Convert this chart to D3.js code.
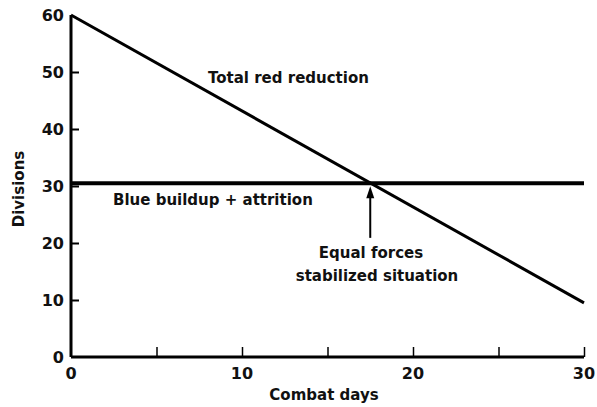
<!DOCTYPE html>
<html>
<head>
<meta charset="utf-8">
<script src="https://cdn.jsdelivr.net/npm/d3@7"></script>
<style>
  body { margin: 0; background: #fff; }
  svg text { font-family: "DejaVu Sans", sans-serif; font-weight: bold; fill: #111; }
</style>
</head>
<body>
<div class="graphic"></div>
<script>
// chart values
var days = [0, 30]
var redReduction = [60, 9.5]
var blueBuildup = [30.5, 30.5]
var xTicks = [5, 10, 15, 20, 25, 30]
var xTickLabels = [0, 10, 20, 30]
var yTicks = [10, 20, 30, 40, 50]
var yTickLabels = [0, 10, 20, 30, 40, 50, 60]
var equalPoint = [17.5, 30.5]
var arrowStart = 20.9

var width = 597
var height = 407

var svg = d3.select('.graphic').append('svg')
  .attr('width', width)
  .attr('height', height)

var x = d3.scaleLinear().domain([0, 30]).range([71, 584])
var y = d3.scaleLinear().domain([0, 60]).range([357, 15])

// axes
var xAxis = d3.axisTop(x).tickValues(xTicks).tickSize(10).tickFormat('')
var yAxis = d3.axisRight(y).tickValues(yTicks).tickSize(8).tickFormat('')

var xg = svg.append('g')
  .attr('transform', 'translate(0,' + y(0) + ')')
  .call(xAxis)
xg.select('.domain').attr('stroke-width', 3).attr('d', 'M' + x(0) + ',0H' + x(30))
xg.selectAll('.tick line').attr('stroke-width', 1.5)

var yg = svg.append('g')
  .attr('transform', 'translate(' + x(0) + ',0)')
  .call(yAxis)
yg.select('.domain').attr('stroke-width', 3).attr('d', 'M0,' + y(60) + 'V' + y(0))
yg.selectAll('.tick line').attr('stroke-width', 2)

// tick labels
svg.selectAll('.ylab')
  .data(yTickLabels)
  .enter().append('text')
  .attr('class', 'ylab')
  .attr('x', x(0) - 7)
  .attr('y', function(d) { return y(d) + 6 })
  .attr('text-anchor', 'end')
  .style('font-size', '16px')
  .text(function(d) { return d })

svg.selectAll('.xlab')
  .data(xTickLabels)
  .enter().append('text')
  .attr('class', 'xlab')
  .attr('x', function(d) { return x(d) })
  .attr('y', y(0) + 22)
  .attr('text-anchor', 'middle')
  .style('font-size', '16px')
  .text(function(d) { return d })

// axis titles
svg.append('text')
  .attr('x', 324)
  .attr('y', 400)
  .attr('text-anchor', 'middle')
  .style('font-size', '15px')
  .text('Combat days')

svg.append('text')
  .attr('transform', 'translate(24,189) rotate(-90)')
  .attr('text-anchor', 'middle')
  .style('font-size', '15px')
  .text('Divisions')

// lines
var line = d3.line()
  .x(function(d) { return x(d[0]) })
  .y(function(d) { return y(d[1]) })

svg.append('path')
  .datum(d3.zip(days, redReduction))
  .attr('d', line)
  .attr('fill', 'none')
  .attr('stroke', '#000')
  .attr('stroke-width', 3)

svg.append('path')
  .datum(d3.zip(days, blueBuildup))
  .attr('d', line)
  .attr('fill', 'none')
  .attr('stroke', '#000')
  .attr('stroke-width', 4)

// arrow to the crossing point
var ax = x(equalPoint[0])
var tipY = y(equalPoint[1]) + 3
svg.append('line')
  .attr('x1', ax).attr('x2', ax)
  .attr('y1', y(arrowStart)).attr('y2', tipY + 8)
  .attr('stroke', '#000')
  .attr('stroke-width', 2)
svg.append('path')
  .attr('d', 'M' + ax + ',' + tipY + 'L' + (ax - 4) + ',' + (tipY + 12) + 'L' + (ax + 4) + ',' + (tipY + 12) + 'Z')
  .attr('fill', '#000')

// annotations
svg.append('text')
  .attr('x', 208)
  .attr('y', 83)
  .style('font-size', '15px')
  .text('Total red reduction')

svg.append('text')
  .attr('x', 113)
  .attr('y', 205)
  .style('font-size', '15px')
  .text('Blue buildup + attrition')

svg.append('text')
  .attr('x', 371)
  .attr('y', 258)
  .attr('text-anchor', 'middle')
  .style('font-size', '15px')
  .text('Equal forces')

svg.append('text')
  .attr('x', 377)
  .attr('y', 281)
  .attr('text-anchor', 'middle')
  .style('font-size', '15px')
  .text('stabilized situation')
</script>
</body>
</html>
